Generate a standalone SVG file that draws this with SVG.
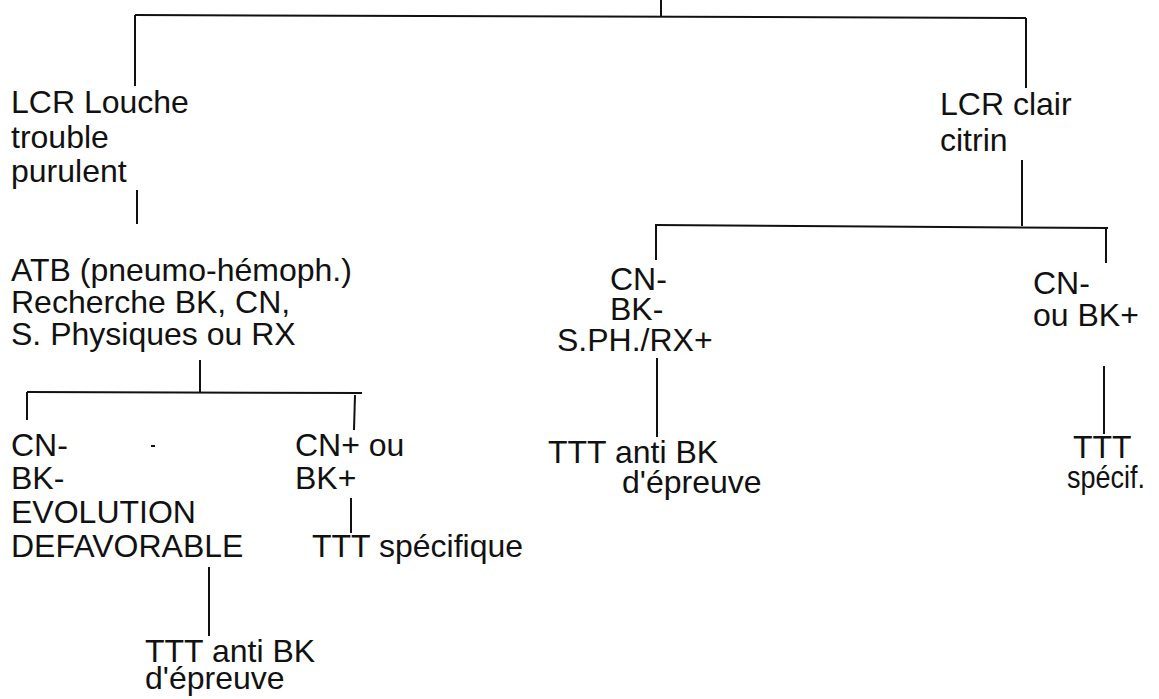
<svg xmlns="http://www.w3.org/2000/svg" width="1159" height="699" viewBox="0 0 1159 699">
<style>
text{font-family:"Liberation Sans",Arial,Helvetica,sans-serif;font-size:32px;fill:#111}
.c line{stroke:#111;stroke-width:2;fill:none}
</style>
<rect width="1159" height="699" fill="#fff"/>
<g id="connectors" class="c">
<line x1="661" y1="0" x2="661" y2="16"/>
<line x1="135" y1="15" x2="1026" y2="18"/>
<line x1="135" y1="15" x2="135" y2="86"/>
<line x1="1026" y1="18" x2="1026" y2="88"/>
<line x1="137" y1="190" x2="137" y2="224"/>
<line x1="200" y1="360" x2="200" y2="392"/>
<line x1="27" y1="392" x2="362" y2="393"/>
<line x1="27" y1="392" x2="27" y2="420"/>
<line x1="355" y1="395" x2="354" y2="430"/>
<line x1="351" y1="498" x2="351" y2="533"/>
<line x1="209" y1="567" x2="209" y2="636"/>
<line x1="1022" y1="160" x2="1022" y2="226"/>
<line x1="655" y1="225" x2="1108" y2="228"/>
<line x1="656" y1="225" x2="656" y2="260"/>
<line x1="1106" y1="228" x2="1106" y2="263"/>
<line x1="657" y1="358" x2="657" y2="437"/>
<line x1="1104" y1="366" x2="1104" y2="434"/>
<line x1="151" y1="446" x2="155" y2="446"/>
</g>
<g id="lcr-louche"><text x="11" y="113">LCR Louche</text><text x="11" y="148">trouble</text><text x="11" y="182">purulent</text></g>
<g id="atb"><text x="11" y="281">ATB (pneumo-hémoph.)</text><text x="11" y="313">Recherche BK, CN,</text><text x="11" y="345">S. Physiques ou RX</text></g>
<g id="cn-evolution"><text x="11" y="456">CN-</text><text x="11" y="489">BK-</text><text x="11" y="523">EVOLUTION</text><text x="11" y="557">DEFAVORABLE</text></g>
<g id="cn-plus"><text x="295" y="456">CN+ ou</text><text x="295" y="489">BK+</text></g>
<g id="ttt-specifique"><text x="312" y="557">TTT spécifique</text></g>
<g id="ttt-anti-left"><text x="145" y="662">TTT anti BK</text><text x="145" y="689">d'épreuve</text></g>
<g id="lcr-clair"><text x="940" y="115">LCR clair</text><text x="940" y="151">citrin</text></g>
<g id="cn-sph"><text x="610" y="290">CN-</text><text x="610" y="320">BK-</text><text x="557" y="351">S.PH./RX+</text></g>
<g id="ttt-anti-mid"><text x="548" y="463">TTT anti BK</text><text x="622" y="493">d'épreuve</text></g>
<g id="cn-ou-bk"><text x="1033" y="294">CN-</text><text x="1033" y="326">ou BK+</text></g>
<g id="ttt-specif"><text x="1073" y="458">TTT</text><text x="1067" y="488" textLength="78" lengthAdjust="spacingAndGlyphs">spécif.</text></g>
</svg>
